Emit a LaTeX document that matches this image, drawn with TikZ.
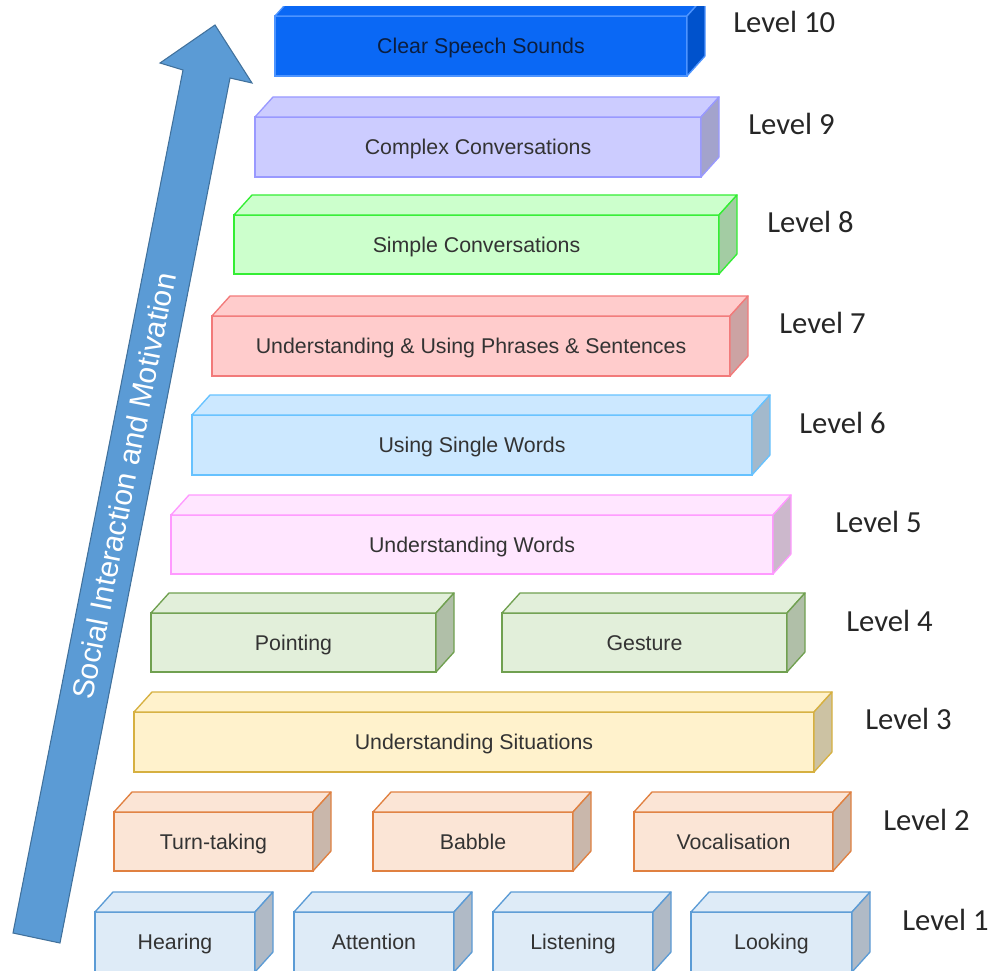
\documentclass[tikz,border=0pt]{standalone}
\usepackage{fontspec}
\setmainfont{Liberation Sans}
\newfontfamily\lvlfont{Carlito}
\definecolor{l10fill}{HTML}{0A68F5}\definecolor{l10draw}{HTML}{4D94FF}\definecolor{l10side}{HTML}{0052CC}
\definecolor{l9fill}{HTML}{CCCCFF}\definecolor{l9draw}{HTML}{9999FF}\definecolor{l9side}{HTML}{A3A3CC}
\definecolor{l8fill}{HTML}{CCFFCC}\definecolor{l8draw}{HTML}{33EE33}\definecolor{l8side}{HTML}{A3CCA3}
\definecolor{l7fill}{HTML}{FFCCCC}\definecolor{l7draw}{HTML}{F27A7A}\definecolor{l7side}{HTML}{CCA3A3}
\definecolor{l6fill}{HTML}{CCE8FF}\definecolor{l6draw}{HTML}{66C2FF}\definecolor{l6side}{HTML}{A3B9CC}
\definecolor{l5fill}{HTML}{FFE6FF}\definecolor{l5draw}{HTML}{FF99FF}\definecolor{l5side}{HTML}{CCB8CC}
\definecolor{l4fill}{HTML}{E2EFDA}\definecolor{l4draw}{HTML}{70A050}\definecolor{l4side}{HTML}{B0BFA8}
\definecolor{l3fill}{HTML}{FFF2CC}\definecolor{l3draw}{HTML}{D6B040}\definecolor{l3side}{HTML}{CCC2A3}
\definecolor{l2fill}{HTML}{FBE5D6}\definecolor{l2draw}{HTML}{E08040}\definecolor{l2side}{HTML}{C9B7AB}
\definecolor{l1fill}{HTML}{DEEBF7}\definecolor{l1draw}{HTML}{5B9BD5}\definecolor{l1side}{HTML}{B0BAC6}
\definecolor{arrowfill}{HTML}{5B9BD5}\definecolor{arrowdraw}{HTML}{41719C}
\definecolor{boxtext}{HTML}{333333}\definecolor{lvltext}{HTML}{262626}
\definecolor{topboxtext}{HTML}{0B1E40}
\newcommand\cubebox[7]{%
  \node[boxface,fill=#6fill,draw=#6draw,minimum width={(#4-#2)*0.75pt},minimum height={(#5-#3)*0.75pt}] (#1) at ({(#2+#4)/2},{(#3+#5)/2}) {#7};
  \draw[faceline,draw=#6draw,fill=#6fill] (#1.north west) -- ++(18,-20) -- ++({#4-#2},0) -- (#1.north east) -- cycle;
  \draw[faceline,draw=#6draw,fill=#6side] (#1.north east) -- ++(18,-20) -- ++(0,{#5-#3}) -- (#1.south east) -- cycle;
}
\begin{document}
\begin{tikzpicture}[x=0.75pt,y=-0.75pt,
  boxface/.style={rectangle,inner sep=0pt,outer sep=0pt,line width=1pt,text=boxtext,text height=11.5pt,text depth=0pt,font=\fontsize{16}{19}\selectfont},
  faceline/.style={line width=1pt,line join=round},
  lvl/.style={anchor=west,inner sep=0pt,text=lvltext,font=\lvlfont\fontsize{23}{27}\selectfont},
  arrowshape/.style={fill=arrowfill,draw=arrowdraw,line width=0.8pt,line join=miter}]
\useasboundingbox (0,0) rectangle (991,970);
\begin{scope}
\clip (-5,7) rectangle (996,975);
% arrow
\draw[arrowshape] (13,933) -- (60,943) -- (230,78) -- (252,83) -- (215,25) -- (160,63) -- (183,70) -- cycle;
\node[rotate=78.9,text=white,inner sep=0pt,font=\fontsize{22.5}{27}\selectfont] (arrowtext) at (124,486) {Social Interaction and Motivation};
% level 10
\cubebox{clear}{275}{16}{687}{76}{l10}{\textcolor{topboxtext}{Clear Speech Sounds}}
% level 9
\cubebox{complex}{255}{117}{701}{177}{l9}{Complex Conversations}
% level 8
\cubebox{simple}{234}{215}{719}{274}{l8}{Simple Conversations}
% level 7
\cubebox{phrases}{212}{316}{730}{376}{l7}{Understanding \& Using Phrases \& Sentences}
% level 6
\cubebox{single}{192}{415}{752}{475}{l6}{Using Single Words}
% level 5
\cubebox{words}{171}{515}{773}{574}{l5}{Understanding Words}
% level 4
\cubebox{pointing}{151}{613}{436}{672}{l4}{Pointing}
\cubebox{gesture}{502}{613}{787}{672}{l4}{Gesture}
% level 3
\cubebox{situations}{134}{712}{814}{772}{l3}{Understanding Situations}
% level 2
\cubebox{turn}{114}{812}{313}{871}{l2}{Turn-taking}
\cubebox{babble}{373}{812}{573}{871}{l2}{Babble}
\cubebox{vocal}{634}{812}{833}{871}{l2}{Vocalisation}
% level 1
\cubebox{hearing}{95}{912}{255}{972}{l1}{Hearing}
\cubebox{attention}{294}{912}{454}{972}{l1}{Attention}
\cubebox{listening}{493}{912}{653}{972}{l1}{Listening}
\cubebox{looking}{691}{912}{852}{972}{l1}{Looking}
\end{scope}
% level labels
\node[lvl] (lab10) at (733,22) {Level 10};
\node[lvl] (lab9) at (748,124) {Level 9};
\node[lvl] (lab8) at (767,222) {Level 8};
\node[lvl] (lab7) at (779,323) {Level 7};
\node[lvl] (lab6) at (799,423) {Level 6};
\node[lvl] (lab5) at (835,522) {Level 5};
\node[lvl] (lab4) at (846,621) {Level 4};
\node[lvl] (lab3) at (865,719) {Level 3};
\node[lvl] (lab2) at (883,820) {Level 2};
\node[lvl] (lab1) at (902,920) {Level 1};
\end{tikzpicture}
\end{document}
